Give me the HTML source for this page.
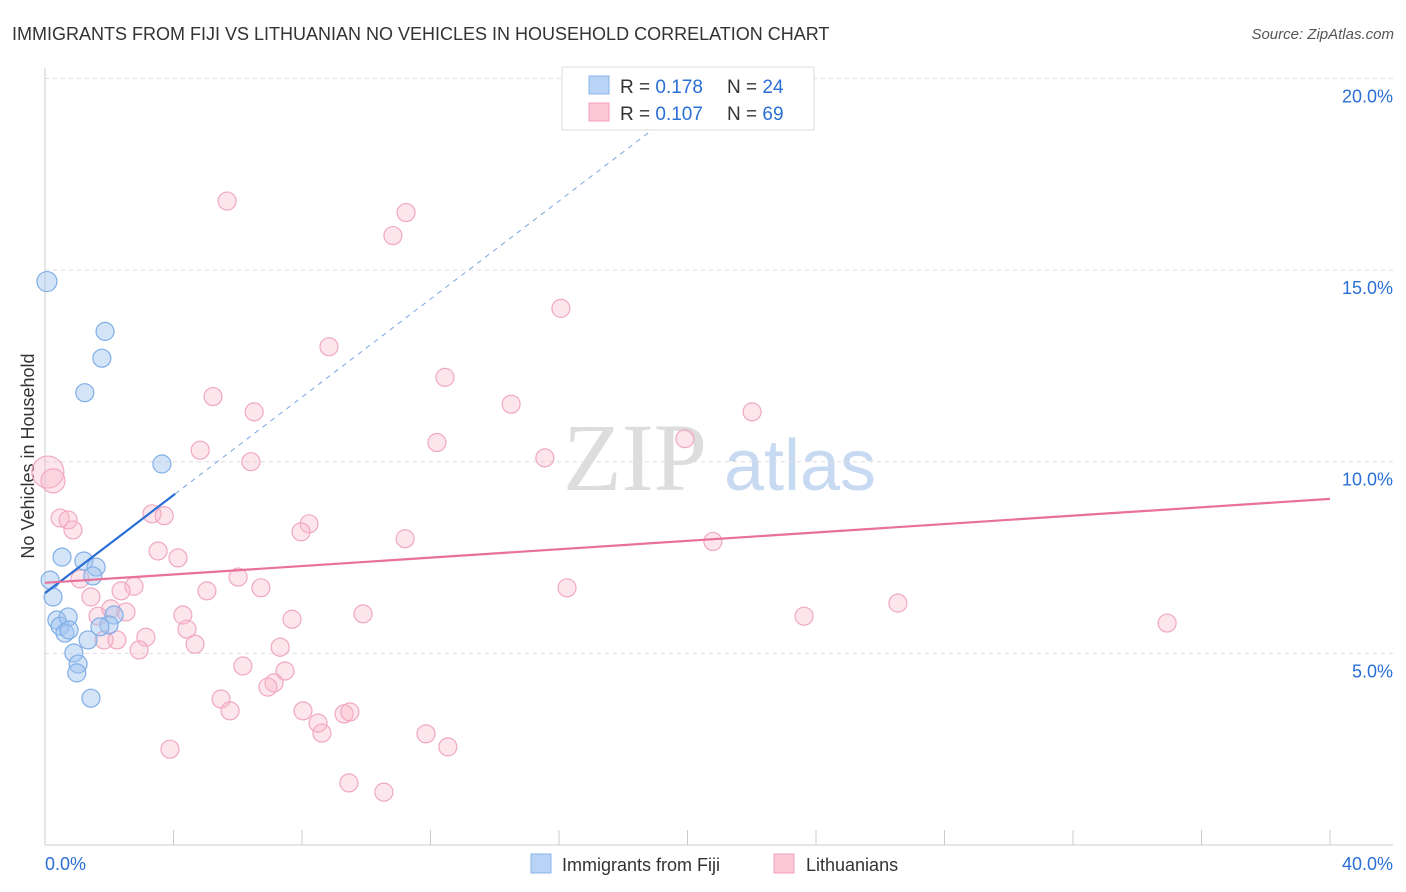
<!DOCTYPE html>
<html><head><meta charset="utf-8"><style>
body{margin:0;background:#fff;font-family:"Liberation Sans",sans-serif}
svg{display:block}
</style></head><body>
<svg width="1406" height="892" id="chart">
<text x="12" y="40" font-size="18" fill="#333">IMMIGRANTS FROM FIJI VS LITHUANIAN NO VEHICLES IN HOUSEHOLD CORRELATION CHART</text>
<text x="1394" y="39" font-size="15" fill="#555" font-style="italic" text-anchor="end">Source: ZipAtlas.com</text>
<text x="635" y="490" font-size="96" fill="#ddd" font-family="Liberation Serif,serif" text-anchor="middle">ZIP</text>
<text x="800" y="490" font-size="72" fill="#c8daf2" text-anchor="middle">atlas</text>
<text transform="translate(34,456) rotate(-90)" font-size="18" fill="#333" text-anchor="middle">No Vehicles in Household</text>
<g id="grid"></g><g id="marks"></g>
<g>
<rect x="562" y="67" width="252" height="63" fill="#fff" stroke="#ddd"/>
<rect x="589" y="76" width="20" height="18" fill="#b8d3f5" stroke="#8ab4e8"/>
<rect x="589" y="103" width="20" height="18" fill="#fbc8d8" stroke="#f0a0b8"/>
<text x="620" y="93" font-size="19" fill="#333">R = <tspan fill="#2a6fd6">0.178</tspan></text>
<text x="727" y="93" font-size="19" fill="#333">N = <tspan fill="#2a6fd6">24</tspan></text>
<text x="620" y="120" font-size="19" fill="#333">R = <tspan fill="#2a6fd6">0.107</tspan></text>
<text x="727" y="120" font-size="19" fill="#333">N = <tspan fill="#2a6fd6">69</tspan></text>
</g>
<g>
<rect x="531" y="854" width="20" height="19" fill="#b8d3f5" stroke="#8ab4e8"/>
<text x="562" y="871" font-size="18" fill="#333">Immigrants from Fiji</text>
<rect x="774" y="854" width="20" height="19" fill="#fbc8d8" stroke="#f0a0b8"/>
<text x="806" y="871" font-size="18" fill="#333">Lithuanians</text>
</g>
</svg>
<script>
const yTicks=[5,10,15,20];
const yTickLabels=["5.0%","10.0%","15.0%","20.0%"];
const xTicks=[0,4,8,12,16,20,24,28,32,36,40];
const fijiX=[0.06,1.87,1.77,1.24,3.64,0.16,0.25,0.53,1.21,1.59,1.49,0.37,0.47,0.72,0.62,0.75,1.34,0.90,1.03,0.99,1.43,2.15,1.99,1.71];
const fijiY=[14.7,13.4,12.7,11.8,9.94,6.91,6.47,7.51,7.41,7.25,7.02,5.87,5.71,5.95,5.53,5.61,5.35,5.01,4.72,4.49,3.83,6.00,5.74,5.69];
const fijiR=[10,9,9,9,9,9,9,9,9,9,9,9,9,9,9,9,9,9,9,9,9,9,9,9];
const lithX=[0.09,0.25,5.67,11.24,10.83,16.06,8.84,12.45,5.23,6.51,14.51,22.01,12.2,19.92,4.83,6.41,15.56,0.47,0.72,0.87,3.33,3.71,8.22,7.97,11.21,20.79,3.52,4.14,1.09,6.01,2.77,2.37,5.04,6.72,16.25,1.43,2.52,1.65,2.05,4.29,7.69,9.9,23.63,26.55,34.93,4.42,3.14,1.84,2.24,2.93,4.67,7.32,6.16,7.47,7.13,6.94,5.48,5.76,8.03,8.5,8.62,9.31,9.49,11.86,12.54,3.89,9.46,10.55];
const lithY=[9.73,9.5,16.8,16.5,15.9,14.0,13.0,12.2,11.7,11.3,11.5,11.3,10.5,10.6,10.3,10.0,10.1,8.53,8.48,8.22,8.64,8.59,8.38,8.17,7.99,7.92,7.67,7.49,6.94,6.99,6.75,6.63,6.63,6.71,6.71,6.47,6.08,5.97,6.16,6.00,5.89,6.03,5.97,6.31,5.79,5.63,5.42,5.35,5.35,5.09,5.24,5.16,4.67,4.54,4.23,4.12,3.81,3.5,3.5,3.18,2.92,3.42,3.47,2.9,2.56,2.50,1.62,1.38];
const lithR=[16,12,9,9,9,9,9,9,9,9,9,9,9,9,9,9,9,9,9,9,9,9,9,9,9,9,9,9,9,9,9,9,9,9,9,9,9,9,9,9,9,9,9,9,9,9,9,9,9,9,9,9,9,9,9,9,9,9,9,9,9,9,9,9,9,9,9,9];
const fijiTrend=[6.57,9.16];
const fijiTrendX=[0,4.05,19];
const lithTrend=[6.84,9.03];
const NS="http://www.w3.org/2000/svg";
const xs=v=>45+v*32.125, ys=v=>845-v*38.33;
function mk(t,a,p){const e=document.createElementNS(NS,t);for(const k in a)e.setAttribute(k,a[k]);p.appendChild(e);return e;}
const g=document.getElementById('grid'), m=document.getElementById('marks');
yTicks.forEach((t,i)=>{
 const l=mk('line',{x1:45,x2:1393,y1:ys(t),y2:ys(t),stroke:'#ddd','stroke-dasharray':'4,4'},g);
 
 
 const tx=mk('text',{x:1393,y:ys(t)+24,'font-size':18,fill:'#2a6fd6','text-anchor':'end'},g);tx.textContent=yTickLabels[i];
 
 
});
mk('line',{x1:45,x2:45,y1:68,y2:845,stroke:'#ccc'},g);
mk('line',{x1:45,x2:1393,y1:845,y2:845,stroke:'#ccc'},g);
xTicks.forEach(t=>{const l=mk('line',{x1:xs(t),x2:xs(t),y1:830,y2:845,stroke:'#ccc'},g);
 
 });
let t0=mk('text',{x:45,y:870,'font-size':18,fill:'#2a6fd6'},g);t0.textContent="0.0%";


let t1=mk('text',{x:1393,y:870,'font-size':18,fill:'#2a6fd6','text-anchor':'end'},g);t1.textContent="40.0%";


lithX.forEach((x,i)=>{const c=mk('circle',{cx:xs(x),cy:ys(lithY[i]),r:lithR[i],fill:'rgba(248,180,200,0.35)',stroke:'#f0a8c0','stroke-width':1.2},m);
 
 });
fijiX.forEach((x,i)=>{const c=mk('circle',{cx:xs(x),cy:ys(fijiY[i]),r:fijiR[i],fill:'rgba(160,196,240,0.45)',stroke:'#80aee6','stroke-width':1.2},m);
 
 });
const fs=(fijiTrend[1]-fijiTrend[0])/fijiTrendX[1];
const fd=mk('line',{x1:xs(fijiTrendX[1]),y1:ys(fijiTrend[1]),x2:xs(fijiTrendX[2]),y2:ys(fijiTrend[0]+fs*fijiTrendX[2]),stroke:'#7aa6e0','stroke-dasharray':'5,5','stroke-width':1},m);


const fl=mk('line',{x1:xs(0),y1:ys(fijiTrend[0]),x2:xs(fijiTrendX[1]),y2:ys(fijiTrend[1]),stroke:'#2a6fd6','stroke-width':2.2},m);


const ll=mk('line',{x1:xs(0),y1:ys(lithTrend[0]),x2:xs(40),y2:ys(lithTrend[1]),stroke:'#e8709a','stroke-width':2.2},m);


</script>
</body></html>
